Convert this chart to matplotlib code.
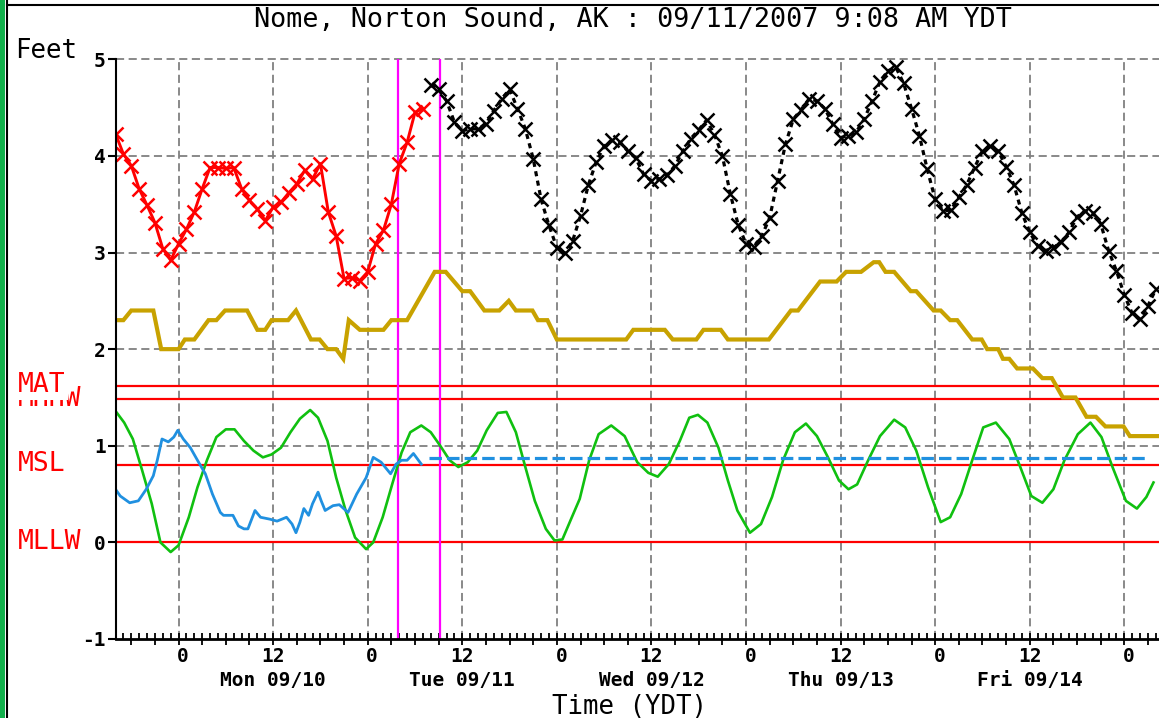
import matplotlib
matplotlib.use("Agg")
import matplotlib.pyplot as plt
from matplotlib.patches import Rectangle
from matplotlib.lines import Line2D
from matplotlib.ticker import MultipleLocator

# hours counted from Mon 09/10 00:00 YDT
obs_hours = list(range(-8, 32))
obs_feet = [4.23, 4.02, 3.90, 3.66, 3.49, 3.31, 3.04, 2.92, 3.09, 3.24,
            3.42, 3.66, 3.88, 3.88, 3.87, 3.88, 3.66, 3.54, 3.45, 3.33,
            3.47, 3.52, 3.62, 3.71, 3.85, 3.76, 3.92, 3.42, 3.17, 2.73,
            2.74, 2.71, 2.80, 3.09, 3.23, 3.50, 3.92, 4.14, 4.45, 4.49]

fcst_hours = list(range(32, 125))
fcst_feet = [4.73, 4.69, 4.57, 4.35, 4.26, 4.28, 4.28, 4.33, 4.47, 4.59,
             4.69, 4.49, 4.28, 3.97, 3.55, 3.28, 3.05, 2.99, 3.12, 3.38,
             3.70, 3.94, 4.10, 4.16, 4.14, 4.05, 3.98, 3.81, 3.74, 3.76,
             3.80, 3.90, 4.05, 4.18, 4.27, 4.37, 4.22, 4.00, 3.61, 3.29,
             3.09, 3.06, 3.17, 3.36, 3.74, 4.12, 4.38, 4.48, 4.59, 4.57,
             4.49, 4.33, 4.19, 4.21, 4.25, 4.38, 4.57, 4.77, 4.88, 4.92,
             4.75, 4.49, 4.21, 3.86, 3.55, 3.43, 3.44, 3.57, 3.70, 3.88,
             4.05, 4.10, 4.05, 3.89, 3.70, 3.41, 3.21, 3.07, 3.02, 3.05,
             3.11, 3.21, 3.37, 3.43, 3.41, 3.30, 3.02, 2.81, 2.56, 2.37,
             2.31, 2.45, 2.62]

tide_hours = [-8.0, -6.9, -5.8, -4.6, -3.4, -2.3, -1.0, 0.0, 1.3, 2.4,
              3.6, 4.8, 6.0, 7.1, 8.3, 9.5, 10.7, 11.8, 13.0, 14.2,
              15.4, 16.7, 17.7, 18.9, 20.0, 21.2, 22.4, 23.8, 24.7, 25.9,
              27.1, 28.3, 29.4, 30.8, 32.0, 33.2, 34.4, 35.5, 36.7, 37.9,
              39.1, 40.5, 41.6, 42.8, 44.0, 45.2, 46.6, 47.7, 48.7, 49.9,
              50.9, 52.1, 53.3, 54.9, 56.6, 58.2, 59.6, 60.8, 62.2, 63.6,
              64.8, 65.9, 67.1, 68.5, 69.7, 70.9, 72.5, 73.9, 75.3, 76.7,
              78.2, 79.6, 81.0, 82.4, 83.8, 85.0, 86.1, 87.5, 89.0, 90.8,
              92.2, 93.6, 95.1, 96.7, 97.9, 99.3, 100.7, 102.1, 103.7, 105.4,
              106.8, 108.2, 109.6, 111.0, 112.4, 114.1, 115.7, 117.1, 118.5, 120.2,
              121.6, 122.8, 123.7]
tide_feet = [1.36, 1.24, 1.07, 0.74, 0.40, 0.00, -0.10, -0.03, 0.26, 0.57,
             0.85, 1.09, 1.17, 1.17, 1.05, 0.95, 0.88, 0.91, 0.98, 1.14,
             1.28, 1.37, 1.29, 1.05, 0.67, 0.33, 0.05, -0.07, 0.00, 0.26,
             0.60, 0.93, 1.14, 1.21, 1.14, 1.00, 0.85, 0.78, 0.83, 0.95,
             1.16, 1.34, 1.35, 1.14, 0.78, 0.43, 0.14, 0.02, 0.03, 0.26,
             0.45, 0.85, 1.12, 1.21, 1.10, 0.83, 0.72, 0.68, 0.81, 1.05,
             1.29, 1.32, 1.24, 0.98, 0.64, 0.33, 0.10, 0.19, 0.47, 0.85,
             1.14, 1.23, 1.10, 0.88, 0.64, 0.55, 0.60, 0.85, 1.10, 1.27,
             1.19, 0.95, 0.57, 0.21, 0.26, 0.50, 0.85, 1.19, 1.24, 1.07,
             0.78, 0.48, 0.41, 0.55, 0.85, 1.12, 1.24, 1.09, 0.78, 0.43,
             0.35, 0.47, 0.62]

resid_hours = [-8.0, -7.4, -6.2, -5.1, -4.1, -3.2, -2.7, -2.1, -1.3, -0.6,
               -0.1, 0.6, 1.5, 2.4, 3.4, 4.3, 5.3, 5.7, 6.9, 7.6,
               8.3, 8.8, 9.7, 10.4, 11.6, 12.5, 13.7, 14.4, 14.9, 15.4,
               15.9, 16.5, 17.0, 17.7, 18.1, 18.6, 19.6, 20.4, 21.5, 22.6,
               23.8, 24.7, 25.7, 26.9, 27.6, 28.3, 29.0, 29.8, 30.8]
resid_feet = [0.55, 0.48, 0.41, 0.43, 0.55, 0.69, 0.85, 1.07, 1.04, 1.09,
              1.16, 1.07, 0.98, 0.85, 0.71, 0.50, 0.31, 0.28, 0.28, 0.17,
              0.14, 0.14, 0.33, 0.26, 0.24, 0.22, 0.26, 0.19, 0.10, 0.21,
              0.35, 0.28, 0.40, 0.52, 0.43, 0.33, 0.38, 0.39, 0.31, 0.50,
              0.67, 0.88, 0.83, 0.71, 0.81, 0.85, 0.85, 0.92, 0.81]
offset_hours = [31.8, 123.0]
offset_feet = [0.87, 0.87]

gold_hours = [-8.0, -7.0, -6.0, -3.2, -2.2, 0.0, 0.8, 2.0, 3.8, 4.8,
              5.9, 8.7, 10.0, 11.0, 11.8, 13.9, 14.9, 16.8, 17.9, 18.9,
              20.0, 20.9, 21.6, 23.0, 26.0, 27.0, 29.0, 32.5, 33.9, 36.0,
              37.0, 38.8, 40.7, 41.9, 42.8, 44.9, 45.6, 46.8, 48.0, 56.8,
              57.7, 61.7, 62.7, 65.7, 66.6, 68.8, 69.7, 74.9, 77.7, 78.6,
              81.4, 83.5, 84.7, 86.6, 88.2, 88.9, 89.7, 90.8, 92.9, 93.6,
              95.8, 96.7, 97.9, 98.8, 100.7, 101.9, 102.6, 104.0, 104.6, 105.4,
              106.4, 108.4, 109.6, 110.8, 112.2, 113.8, 115.2, 116.4, 117.6, 119.9,
              120.7, 124.4]
gold_feet = [2.3, 2.3, 2.4, 2.4, 2.0, 2.0, 2.1, 2.1, 2.3, 2.3,
             2.4, 2.4, 2.2, 2.2, 2.3, 2.3, 2.4, 2.1, 2.1, 2.0,
             2.0, 1.9, 2.3, 2.2, 2.2, 2.3, 2.3, 2.8, 2.8, 2.6,
             2.6, 2.4, 2.4, 2.5, 2.4, 2.4, 2.3, 2.3, 2.1, 2.1,
             2.2, 2.2, 2.1, 2.1, 2.2, 2.2, 2.1, 2.1, 2.4, 2.4,
             2.7, 2.7, 2.8, 2.8, 2.9, 2.9, 2.8, 2.8, 2.6, 2.6,
             2.4, 2.4, 2.3, 2.3, 2.1, 2.1, 2.0, 2.0, 1.9, 1.9,
             1.8, 1.8, 1.7, 1.7, 1.5, 1.5, 1.3, 1.3, 1.2, 1.2,
             1.1, 1.1]

datum_names = ["MLLW", "MSL", "MHHW", "MAT"]
datum_feet = [0.0, 0.80, 1.48, 1.62]

marker_hours = [27.85, 33.13]
day_labels = ["Mon 09/10", "Tue 09/11", "Wed 09/12", "Thu 09/13", "Fri 09/14"]
day_noons = [12, 36, 60, 84, 108]

MONO = "DejaVu Sans Mono"
W, H = 1159, 718

fig = plt.figure(figsize=(W / 100, H / 100), dpi=100)
fig.patch.set_facecolor("white")

# window frame bits at the edges of the screenshot
fig.add_artist(Rectangle((0, 0), 5 / W, 1, transform=fig.transFigure, color="#12b04c", lw=0))
fig.add_artist(Line2D([7 / W, 7 / W], [0, 1], transform=fig.transFigure, color="black", lw=1.5))
fig.add_artist(Line2D([7 / W, 1], [1 - 5 / H, 1 - 5 / H], transform=fig.transFigure, color="black", lw=1.5))

ax = fig.add_axes([115.5 / W, (H - 639) / H, (W - 115.5) / W, (639 - 59.3) / H])
ax.set_xlim(-8, 124.4)
ax.set_ylim(-1, 5)

grid_kw = dict(color="#808080", lw=1.3, dashes=(4.5, 2.5), zorder=1, clip_on=False)
for yv in [1, 2, 3, 4, 5]:
    ax.axhline(yv, **grid_kw)
for xv in range(0, 121, 12):
    ax.axvline(xv, **grid_kw)

for v in datum_feet:
    ax.axhline(v, color="#ff0000", lw=1.6, zorder=2)

for h in marker_hours:
    ax.axvline(h, color="#ff00ff", lw=1.6, zorder=2.5)

ax.plot(gold_hours, gold_feet, color="#c8a200", lw=3.0, zorder=3, solid_joinstyle="miter")
ax.plot(tide_hours, tide_feet, color="#10c010", lw=1.9, zorder=4)
ax.plot(resid_hours, resid_feet, color="#2090e0", lw=2.0, zorder=4)
ax.plot(offset_hours, offset_feet, color="#2090e0", lw=2.3, dashes=(3.9, 1.6), zorder=4)

ax.plot(obs_hours, obs_feet, color="#ff0000", lw=2.1, marker="x", ms=9.5, mew=1.8, zorder=5)
ax.plot(fcst_hours, fcst_feet, color="black", lw=2.3, dashes=(1.6, 1.4),
        marker="x", ms=9.5, mew=1.8, zorder=5)

# axes styling
for s in ["top", "right"]:
    ax.spines[s].set_visible(False)
ax.spines["left"].set_linewidth(1.5)
ax.spines["bottom"].set_linewidth(2.0)
ax.spines["left"].set_zorder(6)
ax.spines["bottom"].set_zorder(6)

ax.set_yticks([-1, 0, 1, 2, 3, 4, 5])
ax.set_yticklabels(["-1", "0", "1", "2", "3", "4", "5"], fontsize=14,
                   fontweight="bold", family=MONO)
ax.tick_params(axis="y", direction="out", length=6, width=1.5, pad=1)

ax.xaxis.set_major_locator(MultipleLocator(3))
ax.xaxis.set_minor_locator(MultipleLocator(1))
ax.tick_params(axis="x", which="major", direction="inout", length=9, width=1.3, labelbottom=False)
ax.tick_params(axis="x", which="minor", direction="in", length=4.5, width=1.3)

for xv in range(0, 121, 12):
    lab = "0" if xv % 24 == 0 else "12"
    dx = 4.5 if lab == "0" else 0
    ax.annotate(lab, (xv, 0), xycoords=("data", "axes fraction"), xytext=(dx, -18),
                textcoords="offset pixels", ha="center", va="center",
                fontsize=14, fontweight="bold", family=MONO)
for lab, xv in zip(day_labels, day_noons):
    ax.annotate(lab, (xv, 0), xycoords=("data", "axes fraction"), xytext=(0, -42),
                textcoords="offset pixels", ha="center", va="center",
                fontsize=14, fontweight="bold", family=MONO)

# datum labels on the left margin; MAT is boxed and hides the top of MHHW
for name, v in zip(datum_names, datum_feet):
    py = 541.7 - 96.6 * v
    box = None
    if name == "MAT":
        box = dict(facecolor="white", edgecolor="none", pad=1.5)
    fig.text(18 / W, 1 - py / H, name, color="#ff0000", fontsize=19, family=MONO,
             ha="left", va="center", bbox=box)

fig.text(633 / W, 1 - 20 / H, "Nome, Norton Sound, AK : 09/11/2007 9:08 AM YDT",
         ha="center", va="center", fontsize=19.3, family=MONO)
fig.text(15 / W, 1 - 51 / H, "Feet", ha="left", va="center", fontsize=18.5, family=MONO)
fig.text(630 / W, 1 - 707 / H, "Time (YDT)", ha="center", va="center", fontsize=18.5, family=MONO)

fig.savefig("out.png", dpi=100)
